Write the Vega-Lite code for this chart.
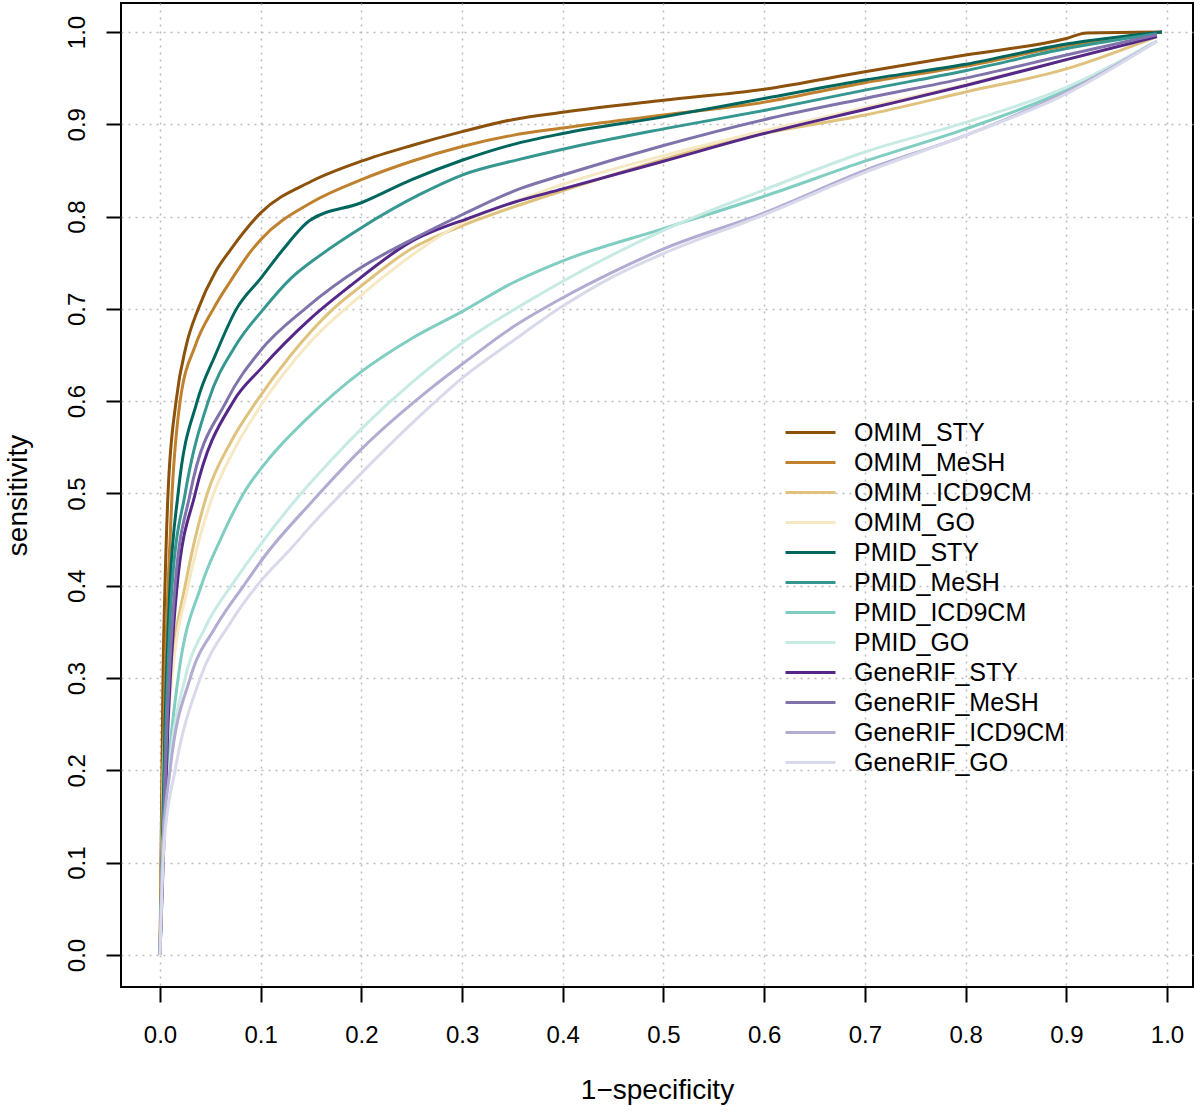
{
"$schema":"https://vega.github.io/schema/vega-lite/v6.json",
"width":1072,"height":984,
"autosize":{"type":"none"},
"padding":{"left":121,"top":3,"right":7,"bottom":127},
"background":"white",
"config":{"view":{"stroke":"#000","strokeWidth":2},"font":"Liberation Sans"},
"data":{"values":[
{"s":"OMIM_STY","x":0,"y":0},{"s":"OMIM_STY","x":0.002,"y":0.2},{"s":"OMIM_STY","x":0.003,"y":0.3},{"s":"OMIM_STY","x":0.005,"y":0.4},{"s":"OMIM_STY","x":0.008,"y":0.5},{"s":"OMIM_STY","x":0.016,"y":0.6},{"s":"OMIM_STY","x":0.026,"y":0.66},{"s":"OMIM_STY","x":0.038,"y":0.7},{"s":"OMIM_STY","x":0.055,"y":0.74},{"s":"OMIM_STY","x":0.07,"y":0.764},{"s":"OMIM_STY","x":0.1,"y":0.804},{"s":"OMIM_STY","x":0.15,"y":0.838},{"s":"OMIM_STY","x":0.2,"y":0.86},{"s":"OMIM_STY","x":0.25,"y":0.877},{"s":"OMIM_STY","x":0.3,"y":0.892},{"s":"OMIM_STY","x":0.35,"y":0.905},{"s":"OMIM_STY","x":0.4,"y":0.913},{"s":"OMIM_STY","x":0.5,"y":0.926},{"s":"OMIM_STY","x":0.6,"y":0.938},{"s":"OMIM_STY","x":0.7,"y":0.957},{"s":"OMIM_STY","x":0.8,"y":0.975},{"s":"OMIM_STY","x":0.9,"y":0.993},{"s":"OMIM_STY","x":0.92,"y":0.999},{"s":"OMIM_STY","x":0.995,"y":1.0},
{"s":"OMIM_MeSH","x":0,"y":0},{"s":"OMIM_MeSH","x":0.003,"y":0.2},{"s":"OMIM_MeSH","x":0.005,"y":0.3},{"s":"OMIM_MeSH","x":0.008,"y":0.4},{"s":"OMIM_MeSH","x":0.012,"y":0.5},{"s":"OMIM_MeSH","x":0.02,"y":0.6},{"s":"OMIM_MeSH","x":0.035,"y":0.66},{"s":"OMIM_MeSH","x":0.053,"y":0.7},{"s":"OMIM_MeSH","x":0.07,"y":0.73},{"s":"OMIM_MeSH","x":0.09,"y":0.762},{"s":"OMIM_MeSH","x":0.1,"y":0.775},{"s":"OMIM_MeSH","x":0.15,"y":0.815},{"s":"OMIM_MeSH","x":0.2,"y":0.84},{"s":"OMIM_MeSH","x":0.25,"y":0.86},{"s":"OMIM_MeSH","x":0.3,"y":0.876},{"s":"OMIM_MeSH","x":0.35,"y":0.888},{"s":"OMIM_MeSH","x":0.4,"y":0.896},{"s":"OMIM_MeSH","x":0.5,"y":0.91},{"s":"OMIM_MeSH","x":0.6,"y":0.924},{"s":"OMIM_MeSH","x":0.7,"y":0.945},{"s":"OMIM_MeSH","x":0.8,"y":0.963},{"s":"OMIM_MeSH","x":0.9,"y":0.985},{"s":"OMIM_MeSH","x":0.995,"y":1.0},
{"s":"OMIM_ICD9CM","x":0,"y":0},{"s":"OMIM_ICD9CM","x":0.003,"y":0.2},{"s":"OMIM_ICD9CM","x":0.01,"y":0.3},{"s":"OMIM_ICD9CM","x":0.025,"y":0.4},{"s":"OMIM_ICD9CM","x":0.047,"y":0.5},{"s":"OMIM_ICD9CM","x":0.07,"y":0.555},{"s":"OMIM_ICD9CM","x":0.096,"y":0.6},{"s":"OMIM_ICD9CM","x":0.13,"y":0.65},{"s":"OMIM_ICD9CM","x":0.172,"y":0.7},{"s":"OMIM_ICD9CM","x":0.2,"y":0.725},{"s":"OMIM_ICD9CM","x":0.248,"y":0.764},{"s":"OMIM_ICD9CM","x":0.3,"y":0.79},{"s":"OMIM_ICD9CM","x":0.35,"y":0.81},{"s":"OMIM_ICD9CM","x":0.4,"y":0.828},{"s":"OMIM_ICD9CM","x":0.5,"y":0.862},{"s":"OMIM_ICD9CM","x":0.6,"y":0.89},{"s":"OMIM_ICD9CM","x":0.7,"y":0.91},{"s":"OMIM_ICD9CM","x":0.8,"y":0.935},{"s":"OMIM_ICD9CM","x":0.9,"y":0.96},{"s":"OMIM_ICD9CM","x":0.99,"y":0.995},
{"s":"OMIM_GO","x":0,"y":0},{"s":"OMIM_GO","x":0.005,"y":0.2},{"s":"OMIM_GO","x":0.012,"y":0.3},{"s":"OMIM_GO","x":0.028,"y":0.4},{"s":"OMIM_GO","x":0.05,"y":0.49},{"s":"OMIM_GO","x":0.075,"y":0.55},{"s":"OMIM_GO","x":0.1,"y":0.595},{"s":"OMIM_GO","x":0.15,"y":0.665},{"s":"OMIM_GO","x":0.2,"y":0.715},{"s":"OMIM_GO","x":0.25,"y":0.758},{"s":"OMIM_GO","x":0.3,"y":0.793},{"s":"OMIM_GO","x":0.35,"y":0.815},{"s":"OMIM_GO","x":0.4,"y":0.835},{"s":"OMIM_GO","x":0.5,"y":0.866},{"s":"OMIM_GO","x":0.6,"y":0.893},{"s":"OMIM_GO","x":0.7,"y":0.918},{"s":"OMIM_GO","x":0.8,"y":0.943},{"s":"OMIM_GO","x":0.9,"y":0.97},{"s":"OMIM_GO","x":0.99,"y":0.995},
{"s":"PMID_STY","x":0,"y":0},{"s":"PMID_STY","x":0.005,"y":0.25},{"s":"PMID_STY","x":0.01,"y":0.4},{"s":"PMID_STY","x":0.018,"y":0.5},{"s":"PMID_STY","x":0.037,"y":0.6},{"s":"PMID_STY","x":0.055,"y":0.65},{"s":"PMID_STY","x":0.076,"y":0.7},{"s":"PMID_STY","x":0.1,"y":0.733},{"s":"PMID_STY","x":0.122,"y":0.764},{"s":"PMID_STY","x":0.149,"y":0.796},{"s":"PMID_STY","x":0.2,"y":0.815},{"s":"PMID_STY","x":0.25,"y":0.84},{"s":"PMID_STY","x":0.3,"y":0.861},{"s":"PMID_STY","x":0.35,"y":0.878},{"s":"PMID_STY","x":0.4,"y":0.89},{"s":"PMID_STY","x":0.5,"y":0.908},{"s":"PMID_STY","x":0.6,"y":0.928},{"s":"PMID_STY","x":0.7,"y":0.948},{"s":"PMID_STY","x":0.8,"y":0.965},{"s":"PMID_STY","x":0.9,"y":0.987},{"s":"PMID_STY","x":0.995,"y":1.0},
{"s":"PMID_MeSH","x":0,"y":0},{"s":"PMID_MeSH","x":0.006,"y":0.25},{"s":"PMID_MeSH","x":0.012,"y":0.4},{"s":"PMID_MeSH","x":0.025,"y":0.5},{"s":"PMID_MeSH","x":0.048,"y":0.6},{"s":"PMID_MeSH","x":0.075,"y":0.66},{"s":"PMID_MeSH","x":0.103,"y":0.7},{"s":"PMID_MeSH","x":0.13,"y":0.733},{"s":"PMID_MeSH","x":0.159,"y":0.758},{"s":"PMID_MeSH","x":0.2,"y":0.788},{"s":"PMID_MeSH","x":0.258,"y":0.824},{"s":"PMID_MeSH","x":0.3,"y":0.845},{"s":"PMID_MeSH","x":0.357,"y":0.862},{"s":"PMID_MeSH","x":0.4,"y":0.873},{"s":"PMID_MeSH","x":0.5,"y":0.895},{"s":"PMID_MeSH","x":0.6,"y":0.915},{"s":"PMID_MeSH","x":0.7,"y":0.937},{"s":"PMID_MeSH","x":0.8,"y":0.958},{"s":"PMID_MeSH","x":0.9,"y":0.982},{"s":"PMID_MeSH","x":0.99,"y":0.998},
{"s":"PMID_ICD9CM","x":0,"y":0},{"s":"PMID_ICD9CM","x":0.003,"y":0.12},{"s":"PMID_ICD9CM","x":0.008,"y":0.2},{"s":"PMID_ICD9CM","x":0.018,"y":0.3},{"s":"PMID_ICD9CM","x":0.041,"y":0.4},{"s":"PMID_ICD9CM","x":0.06,"y":0.45},{"s":"PMID_ICD9CM","x":0.083,"y":0.5},{"s":"PMID_ICD9CM","x":0.11,"y":0.54},{"s":"PMID_ICD9CM","x":0.145,"y":0.58},{"s":"PMID_ICD9CM","x":0.2,"y":0.632},{"s":"PMID_ICD9CM","x":0.25,"y":0.668},{"s":"PMID_ICD9CM","x":0.3,"y":0.697},{"s":"PMID_ICD9CM","x":0.35,"y":0.728},{"s":"PMID_ICD9CM","x":0.4,"y":0.752},{"s":"PMID_ICD9CM","x":0.5,"y":0.787},{"s":"PMID_ICD9CM","x":0.6,"y":0.822},{"s":"PMID_ICD9CM","x":0.7,"y":0.86},{"s":"PMID_ICD9CM","x":0.8,"y":0.895},{"s":"PMID_ICD9CM","x":0.9,"y":0.937},{"s":"PMID_ICD9CM","x":0.986,"y":0.988},
{"s":"PMID_GO","x":0,"y":0},{"s":"PMID_GO","x":0.003,"y":0.12},{"s":"PMID_GO","x":0.009,"y":0.2},{"s":"PMID_GO","x":0.025,"y":0.3},{"s":"PMID_GO","x":0.045,"y":0.355},{"s":"PMID_GO","x":0.074,"y":0.405},{"s":"PMID_GO","x":0.096,"y":0.439},{"s":"PMID_GO","x":0.13,"y":0.487},{"s":"PMID_GO","x":0.169,"y":0.535},{"s":"PMID_GO","x":0.2,"y":0.57},{"s":"PMID_GO","x":0.25,"y":0.62},{"s":"PMID_GO","x":0.3,"y":0.663},{"s":"PMID_GO","x":0.373,"y":0.713},{"s":"PMID_GO","x":0.4,"y":0.73},{"s":"PMID_GO","x":0.5,"y":0.785},{"s":"PMID_GO","x":0.6,"y":0.829},{"s":"PMID_GO","x":0.7,"y":0.87},{"s":"PMID_GO","x":0.8,"y":0.902},{"s":"PMID_GO","x":0.9,"y":0.94},{"s":"PMID_GO","x":0.99,"y":0.99},
{"s":"GeneRIF_STY","x":0,"y":0},{"s":"GeneRIF_STY","x":0.008,"y":0.25},{"s":"GeneRIF_STY","x":0.017,"y":0.4},{"s":"GeneRIF_STY","x":0.035,"y":0.5},{"s":"GeneRIF_STY","x":0.073,"y":0.6},{"s":"GeneRIF_STY","x":0.1,"y":0.635},{"s":"GeneRIF_STY","x":0.15,"y":0.69},{"s":"GeneRIF_STY","x":0.189,"y":0.725},{"s":"GeneRIF_STY","x":0.248,"y":0.772},{"s":"GeneRIF_STY","x":0.311,"y":0.8},{"s":"GeneRIF_STY","x":0.35,"y":0.815},{"s":"GeneRIF_STY","x":0.4,"y":0.83},{"s":"GeneRIF_STY","x":0.5,"y":0.86},{"s":"GeneRIF_STY","x":0.6,"y":0.89},{"s":"GeneRIF_STY","x":0.7,"y":0.916},{"s":"GeneRIF_STY","x":0.8,"y":0.942},{"s":"GeneRIF_STY","x":0.9,"y":0.97},{"s":"GeneRIF_STY","x":0.99,"y":0.995},
{"s":"GeneRIF_MeSH","x":0,"y":0},{"s":"GeneRIF_MeSH","x":0.007,"y":0.25},{"s":"GeneRIF_MeSH","x":0.015,"y":0.4},{"s":"GeneRIF_MeSH","x":0.03,"y":0.5},{"s":"GeneRIF_MeSH","x":0.066,"y":0.6},{"s":"GeneRIF_MeSH","x":0.1,"y":0.655},{"s":"GeneRIF_MeSH","x":0.144,"y":0.7},{"s":"GeneRIF_MeSH","x":0.2,"y":0.745},{"s":"GeneRIF_MeSH","x":0.25,"y":0.775},{"s":"GeneRIF_MeSH","x":0.3,"y":0.802},{"s":"GeneRIF_MeSH","x":0.357,"y":0.83},{"s":"GeneRIF_MeSH","x":0.4,"y":0.845},{"s":"GeneRIF_MeSH","x":0.5,"y":0.877},{"s":"GeneRIF_MeSH","x":0.6,"y":0.905},{"s":"GeneRIF_MeSH","x":0.7,"y":0.928},{"s":"GeneRIF_MeSH","x":0.8,"y":0.95},{"s":"GeneRIF_MeSH","x":0.9,"y":0.975},{"s":"GeneRIF_MeSH","x":0.99,"y":0.997},
{"s":"GeneRIF_ICD9CM","x":0,"y":0},{"s":"GeneRIF_ICD9CM","x":0.003,"y":0.12},{"s":"GeneRIF_ICD9CM","x":0.01,"y":0.2},{"s":"GeneRIF_ICD9CM","x":0.03,"y":0.3},{"s":"GeneRIF_ICD9CM","x":0.055,"y":0.355},{"s":"GeneRIF_ICD9CM","x":0.083,"y":0.4},{"s":"GeneRIF_ICD9CM","x":0.106,"y":0.435},{"s":"GeneRIF_ICD9CM","x":0.15,"y":0.49},{"s":"GeneRIF_ICD9CM","x":0.2,"y":0.548},{"s":"GeneRIF_ICD9CM","x":0.268,"y":0.613},{"s":"GeneRIF_ICD9CM","x":0.3,"y":0.64},{"s":"GeneRIF_ICD9CM","x":0.35,"y":0.68},{"s":"GeneRIF_ICD9CM","x":0.4,"y":0.712},{"s":"GeneRIF_ICD9CM","x":0.45,"y":0.74},{"s":"GeneRIF_ICD9CM","x":0.5,"y":0.765},{"s":"GeneRIF_ICD9CM","x":0.6,"y":0.804},{"s":"GeneRIF_ICD9CM","x":0.7,"y":0.85},{"s":"GeneRIF_ICD9CM","x":0.8,"y":0.888},{"s":"GeneRIF_ICD9CM","x":0.9,"y":0.935},{"s":"GeneRIF_ICD9CM","x":0.99,"y":0.99},
{"s":"GeneRIF_GO","x":0,"y":0},{"s":"GeneRIF_GO","x":0.004,"y":0.12},{"s":"GeneRIF_GO","x":0.015,"y":0.2},{"s":"GeneRIF_GO","x":0.04,"y":0.3},{"s":"GeneRIF_GO","x":0.07,"y":0.36},{"s":"GeneRIF_GO","x":0.1,"y":0.405},{"s":"GeneRIF_GO","x":0.129,"y":0.439},{"s":"GeneRIF_GO","x":0.15,"y":0.465},{"s":"GeneRIF_GO","x":0.2,"y":0.522},{"s":"GeneRIF_GO","x":0.268,"y":0.594},{"s":"GeneRIF_GO","x":0.3,"y":0.625},{"s":"GeneRIF_GO","x":0.35,"y":0.665},{"s":"GeneRIF_GO","x":0.4,"y":0.703},{"s":"GeneRIF_GO","x":0.45,"y":0.735},{"s":"GeneRIF_GO","x":0.5,"y":0.76},{"s":"GeneRIF_GO","x":0.6,"y":0.802},{"s":"GeneRIF_GO","x":0.7,"y":0.848},{"s":"GeneRIF_GO","x":0.8,"y":0.888},{"s":"GeneRIF_GO","x":0.9,"y":0.933},{"s":"GeneRIF_GO","x":0.99,"y":0.99}
]},
"mark":{"type":"line","strokeWidth":3,"interpolate":"monotone"},
"encoding":{
"x":{"field":"x","type":"quantitative","scale":{"domain":[-0.0387,1.0258],"nice":false,"zero":false},
 "axis":{"title":"1−specificity","values":[0,0.1,0.2,0.3,0.4,0.5,0.6,0.7,0.8,0.9,1.0],"format":".1f","domain":false,"tickSize":15,"tickWidth":2,"tickColor":"#000","labelFontSize":24,"labelColor":"#000","labelPadding":21,"labelFont":"Liberation Sans","grid":true,"gridDash":[2,5],"gridColor":"#bbbbbb","gridWidth":1.5,"titleFontSize":28,"titleFontWeight":"normal","titleColor":"#000","titleFont":"Liberation Sans","titlePadding":29}},
"y":{"field":"y","type":"quantitative","scale":{"domain":[-0.0347,1.0314],"nice":false,"zero":false},
 "axis":{"title":"sensitivity","values":[0,0.1,0.2,0.3,0.4,0.5,0.6,0.7,0.8,0.9,1.0],"format":".1f","domain":false,"tickSize":15,"tickWidth":2,"tickColor":"#000","labelFontSize":24,"labelColor":"#000","labelAngle":-90,"labelAlign":"center","labelBaseline":"alphabetic","labelPadding":22,"labelFont":"Liberation Sans","grid":true,"gridDash":[2,5],"gridColor":"#bbbbbb","gridWidth":1.5,"titleFontSize":28,"titleFontWeight":"normal","titleColor":"#000","titleFont":"Liberation Sans","titlePadding":33}},
"color":{"field":"s","type":"nominal","sort":["OMIM_STY","OMIM_MeSH","OMIM_ICD9CM","OMIM_GO","PMID_STY","PMID_MeSH","PMID_ICD9CM","PMID_GO","GeneRIF_STY","GeneRIF_MeSH","GeneRIF_ICD9CM","GeneRIF_GO"],
 "scale":{"domain":["OMIM_STY","OMIM_MeSH","OMIM_ICD9CM","OMIM_GO","PMID_STY","PMID_MeSH","PMID_ICD9CM","PMID_GO","GeneRIF_STY","GeneRIF_MeSH","GeneRIF_ICD9CM","GeneRIF_GO"],
  "range":["#8c510a","#bf812d","#dfc27d","#f6e8c3","#01665e","#35978f","#80cdc1","#c7eae5","#542788","#8073ac","#b2abd2","#d8daeb"]},
 "legend":{"orient":"none","legendX":677,"legendY":417,"title":null,"symbolType":"M-2.5,0H2.5","symbolSize":400,"symbolStrokeWidth":3,"labelFontSize":25,"labelFont":"Liberation Sans","labelColor":"#000","labelOffset":31,"rowPadding":4,"padding":0,"labelLimit":400}}
}
}
